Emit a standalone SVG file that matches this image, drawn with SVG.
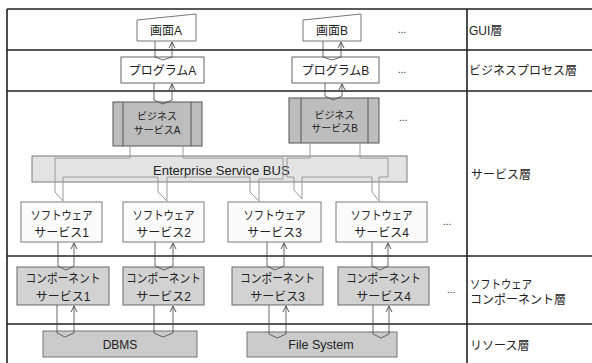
<svg xmlns="http://www.w3.org/2000/svg" width="592" height="363" viewBox="0 0 592 363">
  <style>
    text { font-family: "Liberation Sans", "Noto Sans CJK JP", sans-serif; fill: #222; }
    .lbl { font-size: 12px; text-anchor: middle; }
    .sm { font-size: 10px; text-anchor: middle; }
    .layer { font-size: 12px; }
    .dots { font-size: 10px; }
    .frame { stroke: #222; stroke-width: 1.6; fill: none; }
    .screen { fill: #fff; stroke: #777; stroke-width: 1; }
    .prog { fill: #fff; stroke: #666; stroke-width: 1; }
    .biz { fill: #bdbdbd; stroke: #555; stroke-width: 1; }
    .esb { fill: #e3e3e3; stroke: #7a7a7a; stroke-width: 1; }
    .sw { fill: #fbfbfb; stroke: #7a7a7a; stroke-width: 1; }
    .comp { fill: #d2d2d2; stroke: #666; stroke-width: 1; }
    .res { fill: #cbcbcb; stroke: #777; stroke-width: 1; }
    .link { fill: none; stroke: #444; stroke-width: 0.8; marker-end: url(#tip); }
    .route { fill: none; stroke: #9a9a9a; stroke-width: 1; }
  </style>
  <defs>
    <marker id="tip" viewBox="0 0 8 8" refX="7" refY="4" markerWidth="8" markerHeight="8" markerUnits="userSpaceOnUse" orient="auto">
      <path d="M1,1 L7,4 L1,7" fill="none" stroke="#444" stroke-width="0.9"/>
    </marker>
  </defs>

  <!-- layer grid -->
  <g id="grid">
    <path class="frame" d="M7,9 V363 M7,9 H592 M7,50 H592 M7,91 H592 M7,256 H592 M7,324 H592 M467,9 V363"/>
    <text class="layer" x="469" y="34.5">GUI層</text>
    <text class="layer" x="469" y="75">ビジネスプロセス層</text>
    <text class="layer" x="471" y="179">サービス層</text>
    <text class="layer" x="470" y="289" textLength="62" lengthAdjust="spacingAndGlyphs">ソフトウェア</text>
    <text class="layer" x="470" y="304">コンポーネント層</text>
    <text class="layer" x="470" y="350">リソース層</text>
  </g>

  <!-- ESB band sits underneath its routing -->
  <g id="esb">
    <rect class="esb" x="32" y="156" width="375" height="26"/>
    <text x="153" y="174.5" style="font-size:13px">Enterprise Service BUS</text>
  </g>

  <!-- nodes -->
  <g id="screenA">
    <path class="screen" d="M137,20 L196,14 V41 H137 Z"/>
    <text class="lbl" x="166" y="35">画面A</text>
  </g>
  <g id="screenB">
    <path class="screen" d="M303,20 L361,14 V41 H303 Z"/>
    <text class="lbl" x="332" y="35">画面B</text>
  </g>
  <g id="programA">
    <rect class="prog" x="121" y="57" width="83" height="26"/>
    <text class="lbl" x="162.5" y="75">プログラムA</text>
  </g>
  <g id="programB">
    <rect class="prog" x="292" y="57" width="87" height="26"/>
    <text class="lbl" x="335.5" y="75">プログラムB</text>
  </g>
  <g id="bizServiceA">
    <rect class="biz" x="113" y="102" width="89" height="44"/>
    <path class="biz" d="M123,102 V146 M191,102 V146"/>
    <text class="sm" x="157" y="119.5">ビジネス</text>
    <text class="sm" x="157" y="133.5">サービスA</text>
  </g>
  <g id="bizServiceB">
    <rect class="biz" x="289" y="98" width="90" height="45"/>
    <path class="biz" d="M301,98 V143 M368,98 V143"/>
    <text class="sm" x="334.5" y="118.5">ビジネス</text>
    <text class="sm" x="334.5" y="132">サービスB</text>
  </g>
  <g id="swService1">
    <rect class="sw" x="21" y="202" width="81" height="40"/>
    <text class="lbl" x="61.5" y="220" textLength="62" lengthAdjust="spacingAndGlyphs">ソフトウェア</text>
    <text class="lbl" x="61.5" y="237">サービス1</text>
  </g>
  <g id="swService2">
    <rect class="sw" x="123" y="202" width="81" height="40"/>
    <text class="lbl" x="163.5" y="220" textLength="62" lengthAdjust="spacingAndGlyphs">ソフトウェア</text>
    <text class="lbl" x="163.5" y="237">サービス2</text>
  </g>
  <g id="swService3">
    <rect class="sw" x="228" y="202" width="93" height="40"/>
    <text class="lbl" x="274.5" y="220" textLength="62" lengthAdjust="spacingAndGlyphs">ソフトウェア</text>
    <text class="lbl" x="274.5" y="237">サービス3</text>
  </g>
  <g id="swService4">
    <rect class="sw" x="336" y="202" width="91" height="40"/>
    <text class="lbl" x="381.5" y="220" textLength="62" lengthAdjust="spacingAndGlyphs">ソフトウェア</text>
    <text class="lbl" x="381.5" y="237">サービス4</text>
  </g>
  <g id="compService1">
    <rect class="comp" x="17" y="267" width="92" height="38"/>
    <text class="lbl" x="63" y="283" textLength="75" lengthAdjust="spacingAndGlyphs">コンポーネント</text>
    <text class="lbl" x="63" y="301">サービス1</text>
  </g>
  <g id="compService2">
    <rect class="comp" x="123" y="267" width="81" height="38"/>
    <text class="lbl" x="163.5" y="283" textLength="75" lengthAdjust="spacingAndGlyphs">コンポーネント</text>
    <text class="lbl" x="163.5" y="301">サービス2</text>
  </g>
  <g id="compService3">
    <rect class="comp" x="232" y="267" width="91" height="38"/>
    <text class="lbl" x="277.5" y="283" textLength="75" lengthAdjust="spacingAndGlyphs">コンポーネント</text>
    <text class="lbl" x="277.5" y="301">サービス3</text>
  </g>
  <g id="compService4">
    <rect class="comp" x="338" y="267" width="91" height="38"/>
    <text class="lbl" x="383.5" y="283" textLength="75" lengthAdjust="spacingAndGlyphs">コンポーネント</text>
    <text class="lbl" x="383.5" y="301">サービス4</text>
  </g>
  <g id="dbms">
    <rect class="res" x="43" y="331" width="154" height="26"/>
    <text class="lbl" x="120" y="349.3">DBMS</text>
  </g>
  <g id="fileSystem">
    <rect class="res" x="247" y="332" width="150" height="25"/>
    <text class="lbl" x="321" y="349.3" style="font-size:12.5px">File System</text>
  </g>

  <!-- continuation marks -->
  <g id="more">
    <text class="dots" x="398" y="33">...</text>
    <text class="dots" x="398" y="73">...</text>
    <text class="dots" x="399" y="121">...</text>
    <text class="dots" x="443" y="225">...</text>
    <text class="dots" x="447" y="293">...</text>
  </g>

  <!-- connectors -->
  <g id="connectors">
    <!-- bus routing from each business service through the software services -->
    <path class="route" d="M130,146 V158 H55 V192 L63,201 V177 H158 V192 L167,201 V177 H250 V192 L259,201 V179 H283 V158 H183 V146"/>
    <path class="route" d="M310,143 V158 H287 V177 H294 V190 L302,199 V177 H372 V192 L379,201 V177 H388 V158 H360 V143"/>

    <path class="link" d="M155,41 V57 L163,60 L172,57 V42"/>
    <path class="link" d="M323,41 V57 L332,60 L341,57 V42"/>
    <path class="link" d="M154,83 V100 L163,104 L172,100 V84"/>
    <path class="link" d="M325,83 V96 L333,100 L342,96 V84"/>
    <path class="link" d="M58,242 V266 L66,270 L74,266 V243"/>
    <path class="link" d="M155,242 V266 L164,270 L173,266 V243"/>
    <path class="link" d="M267,242 V266 L275,270 L284,266 V243"/>
    <path class="link" d="M372,242 V266 L380,270 L388,266 V243"/>
    <path class="link" d="M57,305 V333 L65,337 L74,333 V306"/>
    <path class="link" d="M154,305 V333 L163,337 L173,333 V306"/>
    <path class="link" d="M269,305 V334 L277,338 L286,334 V306"/>
    <path class="link" d="M373,305 V334 L381,338 L389,334 V306"/>
  </g>
</svg>
